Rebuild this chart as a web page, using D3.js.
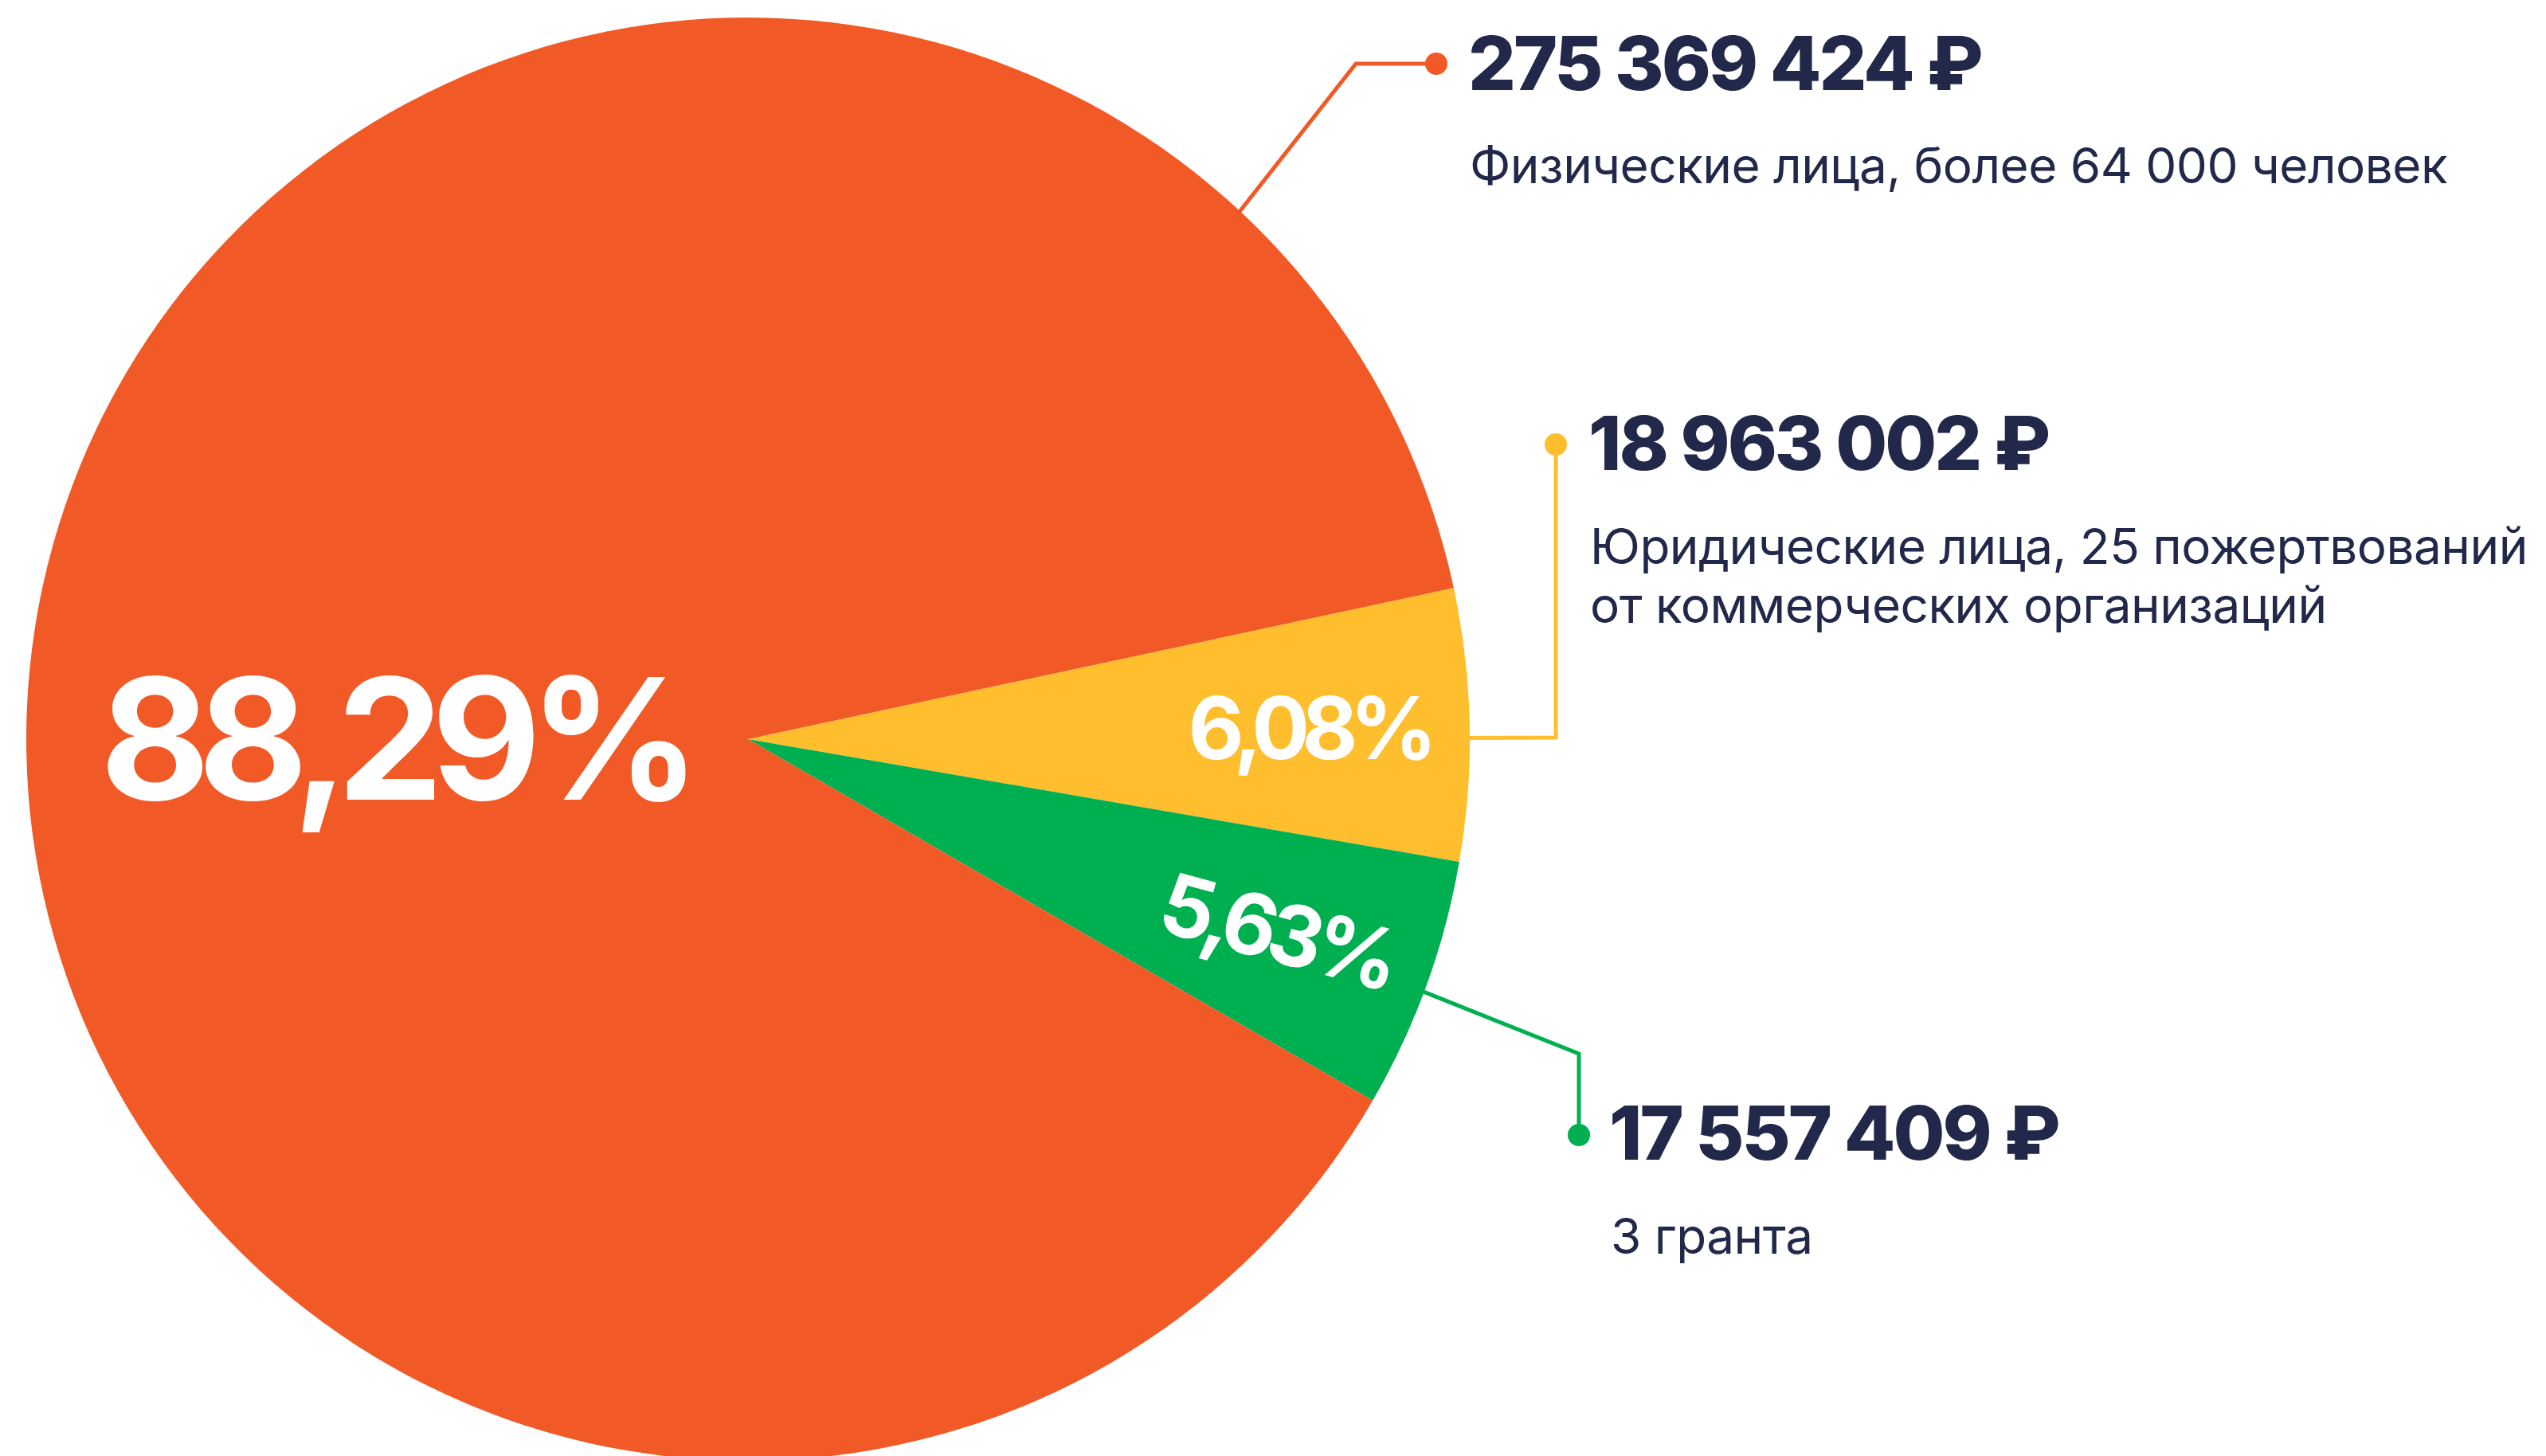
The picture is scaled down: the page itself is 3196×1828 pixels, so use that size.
<!DOCTYPE html>
<html>
<head>
<meta charset="utf-8">
<script src="https://cdn.jsdelivr.net/npm/d3@7"></script>
<style>
  html, body { margin: 0; padding: 0; background: #ffffff; }
  svg { display: block; }
</style>
</head>
<body>
<svg id="chart" width="3196" height="1828"></svg>
<script>
// ---- data ----
const categories = ["Юридические лица", "Гранты", "Физические лица"];
const amounts = [18963002, 17557409, 275369424];
const percentLabels = ["6,08%", "5,63%", "88,29%"];
const amountLabels = ["18 963 002 ₽", "17 557 409 ₽", "275 369 424 ₽"];
const descriptions = [
  ["Юридические лица, 25 пожертвований", "от коммерческих организаций"],
  ["3 гранта"],
  ["Физические лица, более 64 000 человек"]
];
const colors = ["#FFBE2E", "#00AF50", "#F15A27"];

// ---- layout ----
const W = 3196, H = 1828;
const cx = 939, cy = 928, R = 906;
const navy = "#22284A";
const FONT = "Inter, 'Noto Sans', sans-serif";

const svg = d3.select("#chart");
const g = svg.append("g").attr("transform", `translate(${cx},${cy})`);

const deg = Math.PI / 180;
const pie = d3.pie().sort(null).value(d => d)
  .startAngle(77.9 * deg).endAngle(77.9 * deg + 2 * Math.PI);
const arcs = pie(amounts);
const arc = d3.arc().innerRadius(0).outerRadius(R);

g.selectAll("path.slice").data(arcs).join("path")
  .attr("class", "slice")
  .attr("d", arc)
  .attr("fill", (d, i) => colors[i]);

// percentage labels
const labelRadius = [0.777, 0.78, 0.49];
const labelAngleOverride = [null, null, 270 * deg];
const labelRotate = [0, 15, 0];
const labelSize = [108, 106, 212];
const labelSpacing = [-10, -9, -15];
arcs.forEach((a, i) => {
  const ang = labelAngleOverride[i] !== null ? labelAngleOverride[i] : (a.startAngle + a.endAngle) / 2;
  const r = R * labelRadius[i];
  const x = Math.sin(ang) * r, y = -Math.cos(ang) * r;
  g.append("text")
    .attr("transform", `translate(${x},${y}) rotate(${labelRotate[i]})`)
    .attr("text-anchor", "middle")
    .attr("dy", "0.36em")
    .attr("font-family", FONT)
    .attr("font-weight", 700)
    .attr("font-size", labelSize[i])
    .attr("letter-spacing", labelSpacing[i])
    .attr("fill", "#ffffff")
    .text(percentLabels[i]);
});

// leader lines + annotation text
// leader start angles (degrees, clockwise from 12 o'clock) and bends, in absolute px
const leaders = [
  { startAngle: 89.9, pts: [[1953, 926], [1953, 558]], textX: 1994, valueY: 590, descY: [708, 782] },
  { startAngle: 110.5, pts: [[1982, 1323], [1982, 1425]], textX: 2020, valueY: 1456, descY: [1574] },
  { startAngle: 43, pts: [[1702, 80], [1803, 80]], textX: 1843, valueY: 113, descY: [230] }
];
const line = d3.line();
leaders.forEach((L, i) => {
  const a = L.startAngle * deg;
  const rr = R - 6;
  const p0 = [cx + Math.sin(a) * rr, cy - Math.cos(a) * rr];
  const pts = [p0, ...L.pts];
  svg.append("path")
    .attr("d", line(pts))
    .attr("fill", "none")
    .attr("stroke", colors[i])
    .attr("stroke-width", 5);
  const end = L.pts[L.pts.length - 1];
  svg.append("circle").attr("cx", end[0]).attr("cy", end[1]).attr("r", 14).attr("fill", colors[i]);

  svg.append("text")
    .attr("x", L.textX).attr("y", L.valueY)
    .attr("font-family", FONT).attr("font-weight", 800)
    .attr("font-size", 94).attr("letter-spacing", -3)
    .attr("fill", navy)
    .text(amountLabels[i]);
  descriptions[i].forEach((t, j) => {
    svg.append("text")
      .attr("x", L.textX + 2).attr("y", L.descY[j])
      .attr("font-family", FONT).attr("font-weight", 400)
      .attr("font-size", 62).attr("letter-spacing", -0.5)
      .attr("fill", navy)
      .text(t);
  });
});
</script>
</body>
</html>
